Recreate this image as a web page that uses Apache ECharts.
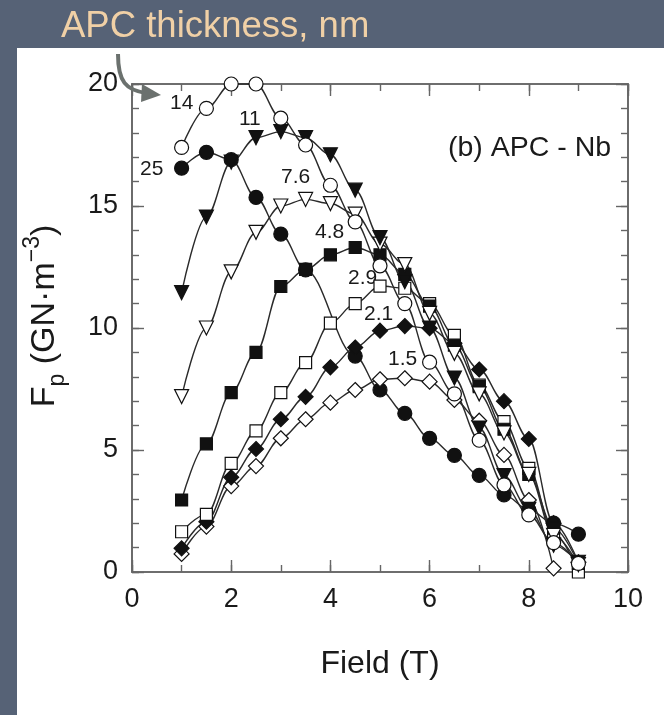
<!DOCTYPE html>
<html>
<head>
<meta charset="utf-8">
<script src="https://cdn.jsdelivr.net/npm/echarts@6/dist/echarts.min.js"></script>
<style>
  html, body { margin: 0; padding: 0; background: #566276; }
  #chart { width: 664px; height: 715px; }
</style>
</head>
<body>
<div id="chart"></div>
<script>
// field values (T) shared by all curves
const fields = [1, 1.5, 2, 2.5, 3, 3.5, 4, 4.5, 5, 5.5, 6, 6.5, 7, 7.5, 8, 8.5, 9];

// pinning force Fp (GN/m^3) for each APC thickness
const apc14  = [17.4, 19.0, 20.0, 20.0, 18.6, 17.5, 15.85, 14.35, 12.55, 11.0, 8.6, 7.3, 5.4, 3.57, 2.34, 1.2, 0.35];
const apc11  = [11.45, 14.55, 16.8, 17.8, 18.05, 17.8, 17.1, 15.65, 13.7, 11.9, 10.0, 7.95, 5.9, 3.95, 2.57, 1.1, 0.4];
const apc25  = [16.55, 17.2, 16.9, 15.35, 13.85, 12.38, null, 8.85, 7.46, 6.5, 5.48, 4.78, 3.96, 3.16, 2.55, 2.0, 1.55];
const apc7_6 = [7.19, 10.0, 12.3, 13.92, 15.0, 15.27, 15.1, 14.67, 13.44, 12.6, 10.6, 8.96, 7.3, 5.7, 4.0, 1.5, 0.3];
const apc4_8 = [2.95, 5.25, 7.35, 9.0, 11.7, 12.4, 13.0, 13.3, 13.0, 12.2, 10.9, 9.3, 7.6, 5.85, 4.0, 1.8, 0.35];
const apc2_9 = [1.65, 2.36, 4.45, 5.78, 7.35, 8.58, 10.2, 11.0, 11.72, 11.63, 11.0, 9.7, 7.66, 6.16, 4.25, 1.6, 0.0];
const apc2_1 = [0.97, 2.06, 3.88, 5.04, 6.26, 7.18, 8.39, 9.2, 9.89, 10.08, 9.99, 9.37, 8.3, 7.0, 5.45, 2.0, 0.4];
const apc1_5 = [0.74, 1.86, 3.52, 4.34, 5.48, 6.26, 6.94, 7.46, 7.9, 7.94, 7.8, 7.05, 6.2, 4.8, 2.95, 0.15, null];

const xTicks = [0, 2, 4, 6, 8, 10];
const yTicks = [0, 5, 10, 15, 20];

const font = 'Liberation Sans, Arial, sans-serif';
const ink = '#1a1a1a';

// symbol, filled or open
function curve(name, values, symbol, filled, rotate) {
  return {
    name: name,
    type: 'line',
    xAxisIndex: 0, yAxisIndex: 0,
    data: fields.map((f, i) => [f, values[i]]).filter(p => p[1] !== null),
    smooth: 0.35,
    smoothMonotone: 'x',
    clip: false,
    symbol: symbol,
    symbolSize: symbol === 'rect' ? 12 : (symbol === 'diamond' ? 15 : 14),
    symbolRotate: rotate || 0,
    showAllSymbol: true,
    lineStyle: { color: '#2a2a2a', width: 1.4 },
    itemStyle: {
      color: filled ? '#111' : '#fff',
      borderColor: '#111',
      borderWidth: 1.2
    },
    z: 3
  };
}

const tickColor = '#666';
// minorTick ignores "inside", so minor ticks come from extra overlay axes with a 1-unit step
function xAx(pos, step, len, extra) {
  return Object.assign({
    type: 'value', min: 0, max: 10, interval: step, position: pos,
    axisLine: { show: true, onZero: false, lineStyle: { color: tickColor, width: 1.6 } },
    axisTick: { inside: true, length: len, lineStyle: { color: tickColor, width: 1.4 } },
    splitLine: { show: false },
    axisLabel: { show: false }
  }, extra || {});
}
function yAx(pos, step, len, extra) {
  return Object.assign({
    type: 'value', min: 0, max: 20, interval: step, position: pos,
    axisLine: { show: true, onZero: false, lineStyle: { color: tickColor, width: 1.6 } },
    axisTick: { inside: true, length: len, lineStyle: { color: tickColor, width: 1.4 } },
    splitLine: { show: false },
    axisLabel: { show: false }
  }, extra || {});
}

const chart = echarts.init(document.getElementById('chart'));
chart.setOption({
  backgroundColor: '#566276',
  animation: false,
  grid: { left: 132, right: 36, top: 84, bottom: 143 },
  xAxis: [
    xAx('bottom', 2, 12, {
      axisLabel: {
        margin: 14, color: ink, fontSize: 27, fontFamily: font,
        formatter: v => xTicks.includes(v) ? String(v) : ''
      },
      name: 'Field (T)', nameLocation: 'middle', nameGap: 76,
      nameTextStyle: { color: ink, fontSize: 32, fontFamily: font }
    }),
    xAx('top', 2, 12),
    xAx('bottom', 1, 7),
    xAx('top', 1, 7)
  ],
  yAxis: [
    yAx('left', 5, 12, {
      axisLabel: {
        margin: 14, color: ink, fontSize: 27, fontFamily: font,
        formatter: v => yTicks.includes(v) ? String(v) : ''
      }
    }),
    yAx('right', 5, 12),
    yAx('left', 1, 7),
    yAx('right', 1, 7)
  ],
  graphic: [
    { type: 'rect', z: -10, shape: { x: 17, y: 48, width: 660, height: 680 }, style: { fill: '#fff' } },
    { type: 'text', left: 61, top: 8, style: { text: 'APC thickness, nm', fill: '#f0d0a6', fontSize: 36.5, fontFamily: font } },
    { type: 'bezierCurve', z: 20, shape: { x1: 118, y1: 54, cpx1: 118, cpy1: 82, cpx2: 126, cpy2: 90, x2: 146, y2: 93 },
      style: { stroke: '#6b716e', lineWidth: 4, fill: null } },
    { type: 'polygon', z: 20, shape: { points: [[142, 84], [161, 95], [141, 102]] }, style: { fill: '#6b716e' } },
    {
      type: 'text', x: 45, y: 316, rotation: Math.PI / 2, z: 10,
      style: {
        text: '{a|F}{sub|p}{a| (GN·m}{sup|−3}{a|)}',
        align: 'center', verticalAlign: 'middle',
        rich: {
          a: { fontSize: 34, fill: ink, fontFamily: font, lineHeight: 48 },
          sub: { fontSize: 23, fill: ink, fontFamily: font, verticalAlign: 'bottom', lineHeight: 23 },
          sup: { fontSize: 23, fill: ink, fontFamily: font, verticalAlign: 'top', lineHeight: 23 }
        }
      }
    },
    { type: 'text', left: 448, top: 134, style: { text: '(b) APC - Nb', fill: ink, fontSize: 28.5, fontFamily: font } },
    { type: 'text', left: 170, top: 93, style: { text: '14', fill: ink, fontSize: 21, fontFamily: font } },
    { type: 'text', left: 239, top: 109, style: { text: '11', fill: ink, fontSize: 21, fontFamily: font } },
    { type: 'text', left: 140, top: 159, style: { text: '25', fill: ink, fontSize: 21, fontFamily: font } },
    { type: 'text', left: 281, top: 167, style: { text: '7.6', fill: ink, fontSize: 21, fontFamily: font } },
    { type: 'text', left: 315, top: 222, style: { text: '4.8', fill: ink, fontSize: 21, fontFamily: font } },
    { type: 'text', left: 348, top: 268, style: { text: '2.9', fill: ink, fontSize: 21, fontFamily: font } },
    { type: 'text', left: 364, top: 304, style: { text: '2.1', fill: ink, fontSize: 21, fontFamily: font } },
    { type: 'text', left: 388, top: 349, style: { text: '1.5', fill: ink, fontSize: 21, fontFamily: font } }
  ],
  series: [
    curve('25', apc25, 'circle', true),
    curve('1.5', apc1_5, 'diamond', false),
    curve('2.1', apc2_1, 'diamond', true),
    curve('2.9', apc2_9, 'rect', false),
    curve('4.8', apc4_8, 'rect', true),
    curve('7.6', apc7_6, 'triangle', false, 180),
    curve('11', apc11, 'triangle', true, 180),
    curve('14', apc14, 'circle', false)
  ]
});
</script>
</body>
</html>
